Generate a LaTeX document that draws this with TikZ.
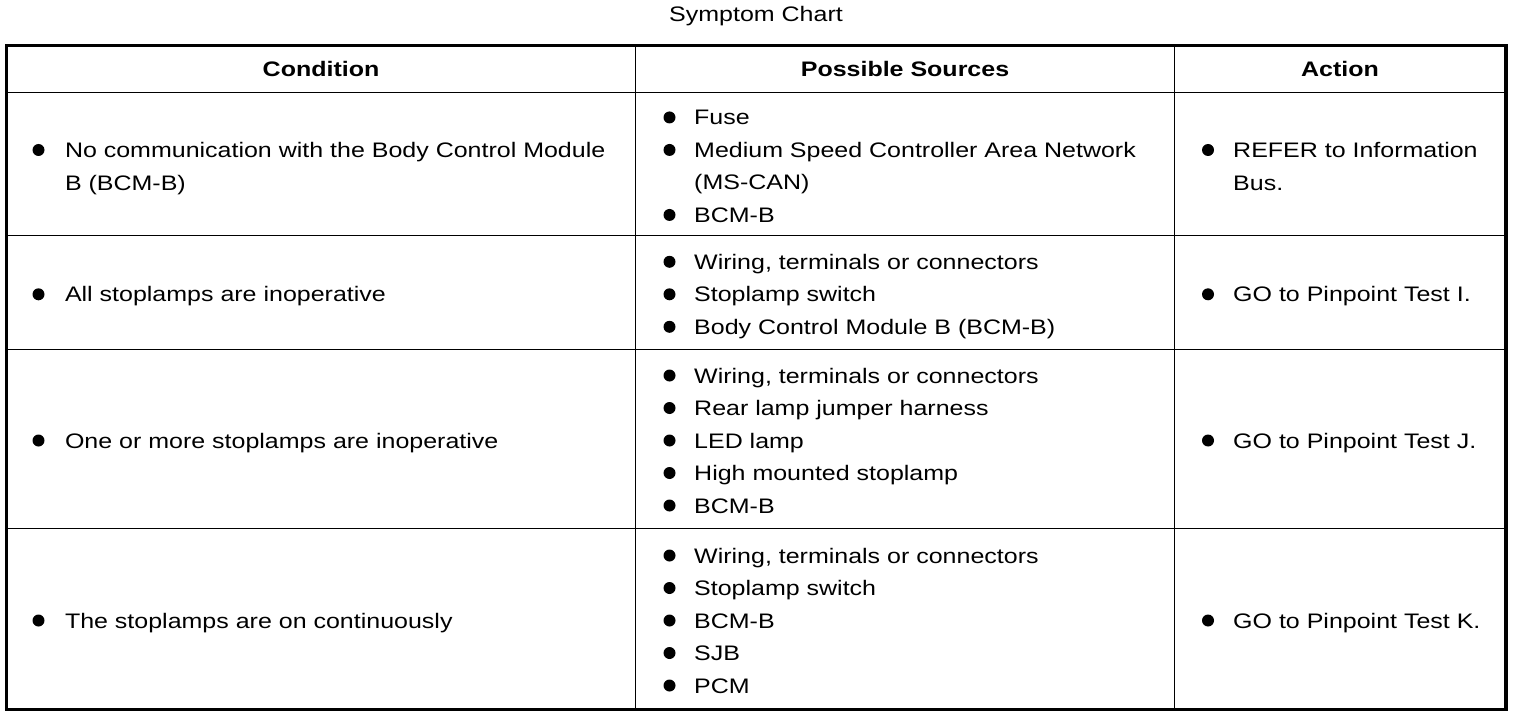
\documentclass[tikz,border=0pt]{standalone}
\usepackage{fontspec}
\setmainfont[FakeStretch=1.19]{Liberation Sans}
\newcommand\bitem[5]{%
  \node[dot] (#1b) at (#2,{#4+2}) {};
  \node[txt] (#1) at (#3,{#4+9.5}) {#5};}
\newcommand\citem[4]{%
  \node[txt] (#1) at (#2,{#3+9.5}) {#4};}
\begin{document}
\begin{tikzpicture}[x=1pt,y=-1pt,
  txt/.style={anchor=base west,inner sep=0pt,font=\fontsize{21}{24}\selectfont},
  hd/.style={anchor=base,inner sep=0pt,font=\fontsize{21}{24}\selectfont\bfseries},
  dot/.style={circle,fill=black,inner sep=0pt,minimum size=12pt},
  thin rule/.style={line width=1pt},
  frame/.style={line width=3.8pt}]
\useasboundingbox (0,0) rectangle (1520,714);
\node[hd] (title) at (756,21.6) {\mdseries Symptom Chart};
% grid
\draw[thin rule] (6.5,92.7) -- (1506,92.7);
\draw[thin rule] (6.5,235.7) -- (1506,235.7);
\draw[thin rule] (6.5,349) -- (1506,349);
\draw[thin rule] (6.5,528) -- (1506,528);
\draw[thin rule] (635.7,45.5) -- (635.7,709.5);
\draw[thin rule] (1174.3,45.5) -- (1174.3,709.5);
\draw[frame] (6.5,45.5) rectangle (1506,709.5);
% header
\node[hd] (h1) at (321,76.5) {Condition};
\node[hd] (h2) at (905,76.5) {Possible Sources};
\node[hd] (h3) at (1340,76.5) {Action};
% row 1
\bitem{c1}{38.5}{64.8}{148}{No communication with the Body Control Module}
\citem{c1b}{64.8}{180.5}{B (BCM-B)}
\bitem{s11}{669.5}{694}{115.45}{Fuse}
\bitem{s12}{669.5}{694}{147.95}{Medium Speed Controller Area Network}
\citem{s12b}{694}{180.45}{(MS-CAN)}
\bitem{s13}{669.5}{694}{212.95}{BCM-B}
\bitem{a1}{1208}{1233}{148}{REFER to Information}
\citem{a1b}{1233}{180.5}{Bus.}
% row 2
\bitem{c2}{38.5}{64.8}{292.3}{All stoplamps are inoperative}
\bitem{s21}{669.5}{694}{259.8}{Wiring, terminals or connectors}
\bitem{s22}{669.5}{694}{292.3}{Stoplamp switch}
\bitem{s23}{669.5}{694}{324.8}{Body Control Module B (BCM-B)}
\bitem{a2}{1208}{1233}{292.3}{GO to Pinpoint Test I.}
% row 3
\bitem{c3}{38.5}{64.8}{438.5}{One or more stoplamps are inoperative}
\bitem{s31}{669.5}{694}{373.5}{Wiring, terminals or connectors}
\bitem{s32}{669.5}{694}{406}{Rear lamp jumper harness}
\bitem{s33}{669.5}{694}{438.5}{LED lamp}
\bitem{s34}{669.5}{694}{471}{High mounted stoplamp}
\bitem{s35}{669.5}{694}{503.5}{BCM-B}
\bitem{a3}{1208}{1233}{438.5}{GO to Pinpoint Test J.}
% row 4
\bitem{c4}{38.5}{64.8}{618.5}{The stoplamps are on continuously}
\bitem{s41}{669.5}{694}{553.5}{Wiring, terminals or connectors}
\bitem{s42}{669.5}{694}{586}{Stoplamp switch}
\bitem{s43}{669.5}{694}{618.5}{BCM-B}
\bitem{s44}{669.5}{694}{651}{SJB}
\bitem{s45}{669.5}{694}{683.5}{PCM}
\bitem{a4}{1208}{1233}{618.5}{GO to Pinpoint Test K.}
\end{tikzpicture}
\end{document}
